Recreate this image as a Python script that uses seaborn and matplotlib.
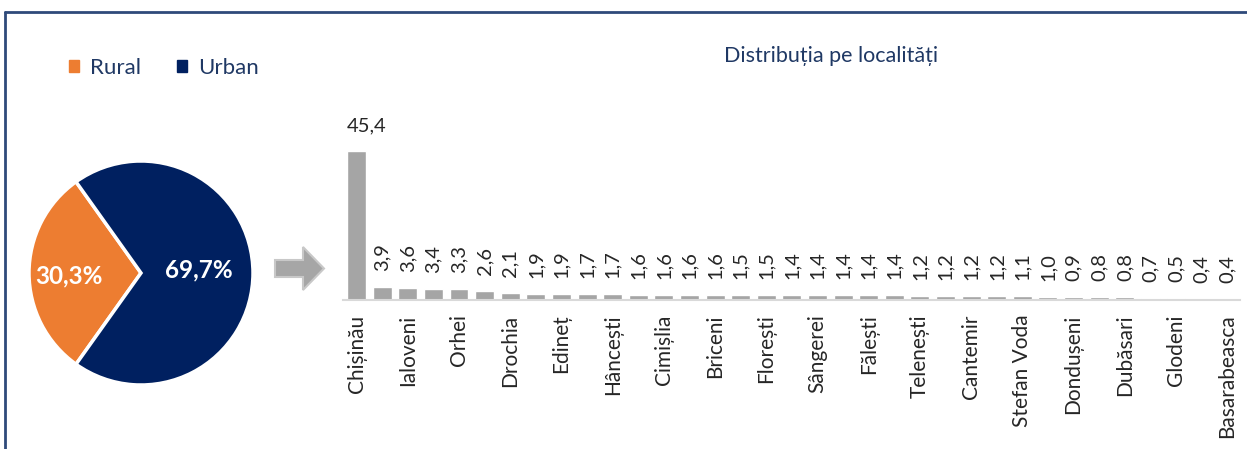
import matplotlib
matplotlib.use("Agg")
import matplotlib.pyplot as plt
import matplotlib.patches as mpatches
from matplotlib.lines import Line2D
import seaborn as sns

# Date
mediu = ["Rural", "Urban"]
mediu_pct = [30.3, 69.7]

valori = [45.4, 3.9, 3.6, 3.4, 3.3, 2.6, 2.1, 1.9, 1.9, 1.7, 1.7, 1.6, 1.6, 1.6,
          1.6, 1.5, 1.5, 1.4, 1.4, 1.4, 1.4, 1.4, 1.2, 1.2, 1.2, 1.2, 1.1, 1.0,
          0.9, 0.8, 0.8, 0.7, 0.5, 0.4, 0.4]
# doar fiecare a doua localitate are eticheta vizibila
localitati = ["Chișinău", "Ialoveni", "Orhei", "Drochia", "Edineț", "Hâncești",
              "Cimișlia", "Briceni", "Florești", "Sângerei", "Fălești", "Telenești",
              "Cantemir", "Stefan Voda", "Dondușeni", "Dubăsari", "Glodeni",
              "Basarabeasca"]

titlu_bare = "Distribuția pe localități"

ORANGE = "#ED7D31"
NAVY = "#002060"
TEXT_NAVY = "#1F3864"
GREY = "#A5A5A5"

sns.set_theme(style="white")
plt.rcParams["font.family"] = ["Lato", "DejaVu Sans"]

W, H = 1247, 449
fig = plt.figure(figsize=(W / 100, H / 100), dpi=100)


def fx(px):
   return px / W


def fy(py):
   return 1 - py / H


def fmt(v):
   return f"{v:.1f}".replace(".", ",")


# Cadru
fig.add_artist(Line2D([fx(5), fx(5)], [0, fy(12)], color="#2F4A7A", lw=2))
fig.add_artist(Line2D([fx(5), 1], [fy(12), fy(12)], color="#2F4A7A", lw=2))

# Pie
r = 112
ax_pie = fig.add_axes([fx(141 - r), fy(273 + r), 2 * r / W, 2 * r / H])
wedges, _, autotexts = ax_pie.pie(
   mediu_pct, colors=[ORANGE, NAVY], startangle=180 - mediu_pct[0] * 1.8,
   counterclock=True, autopct=lambda p: fmt(p) + "%", pctdistance=0.63,
   wedgeprops=dict(edgecolor="white", linewidth=2.5),
   textprops=dict(color="white", fontsize=17.5, fontweight="bold"))
autotexts[0].set_position((-0.64, -0.03))
autotexts[1].set_position((0.52, 0.03))
ax_pie.set_xlim(-1, 1)
ax_pie.set_ylim(-1, 1)

fig.legend(handles=[mpatches.Patch(color=ORANGE, label=mediu[0]),
                    mpatches.Patch(color=NAVY, label=mediu[1])],
           loc="center left", bbox_to_anchor=(fx(69), fy(68)), ncol=2,
           frameon=False, handlelength=0.45, handleheight=0.45, handletextpad=0.5,
           columnspacing=1.6, fontsize=16, labelcolor=TEXT_NAVY,
           borderpad=0, borderaxespad=0)

# Sageata
fig.patches.append(mpatches.FancyArrow(
   fx(275), fy(268.5), fx(324) - fx(275), 0, width=17 / H, head_width=43 / H,
   head_length=21 / W, length_includes_head=True, transform=fig.transFigure,
   facecolor="#A6A6A6", edgecolor="#C8C8C8", lw=1.5))

# Bare
ax = fig.add_axes([fx(343), fy(300), (1240 - 343) / W, 164 / H])
sns.barplot(x=list(range(len(valori))), y=valori, color=GREY, saturation=1,
            width=0.74, ax=ax)
ax.set_xlim(-0.53, 34.5)
ax.set_ylim(0, 50)
ax.set_yticks([])
ax.set_ylabel("")
for s in ["top", "right", "left"]:
   ax.spines[s].set_visible(False)
ax.spines["bottom"].set_color("#D9D9D9")
ax.spines["bottom"].set_linewidth(1.5)
ax.set_xticks(range(0, len(valori), 2))
ax.set_xticklabels(localitati, rotation=90, fontsize=15)
ax.tick_params(axis="x", length=0, pad=10.5)

for i, v in enumerate(valori):
   if i == 0:
      ax.annotate(fmt(v), (i - 0.37, v), xytext=(0, 12), textcoords="offset points",
                  ha="left", va="bottom", fontsize=14.5)
   else:
      ax.annotate(fmt(v), (i, v), xytext=(0, 11.5), textcoords="offset points",
                  ha="center", va="bottom", rotation=90, fontsize=14.5)

fig.text(fx(831), fy(56), titlu_bare, ha="center", va="center", fontsize=15.5,
         color=TEXT_NAVY)

fig.savefig("out.png", dpi=100)
